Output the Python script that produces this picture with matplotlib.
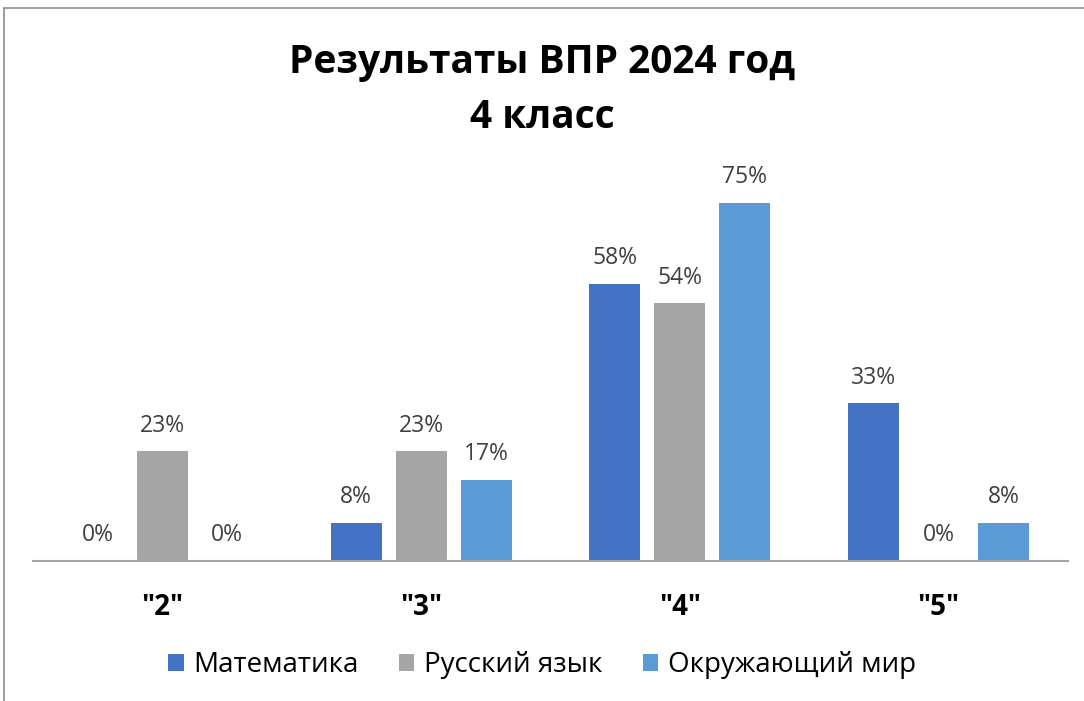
import matplotlib
matplotlib.use("Agg")
import matplotlib.pyplot as plt
from matplotlib.patches import Rectangle
import numpy as np

categories = ['"2"', '"3"', '"4"', '"5"']
series_names = ["Математика", "Русский язык", "Окружающий мир"]
math_vals = [0, 8, 58, 33]
russian_vals = [23, 23, 54, 0]
world_vals = [0, 17, 75, 8]
colors = ["#4472C4", "#A5A5A5", "#5B9BD5"]
title = "Результаты ВПР 2024 год\n4 класс"

plt.rcParams['font.family'] = ['Open Sans', 'DejaVu Sans']

W, H = 1084, 701
fig = plt.figure(figsize=(W / 100, H / 100), dpi=100)

# chart frame (partially cropped in the reference)
fig.patches.append(Rectangle((4 / W, -0.1), 1.2, 1 - 8 / H + 0.1, transform=fig.transFigure,
                             fill=False, edgecolor="#8C8C8C", linewidth=1.2))

ax_left, ax_right = 33, 1068
ax_bottom, ax_top = 561, 140
ax = fig.add_axes([ax_left / W, 1 - ax_bottom / H, (ax_right - ax_left) / W, (ax_bottom - ax_top) / H])
px_per_pct = (561 - 203) / 75.0
ax.set_ylim(0, (ax_bottom - ax_top) / px_per_pct)
ax.set_xlim(-0.5, 3.5)

x = np.arange(len(categories))
width = 0.197
step = 0.251
all_vals = [math_vals, russian_vals, world_vals]
for i, (vals, name, c) in enumerate(zip(all_vals, series_names, colors)):
    pos = x + (i - 1) * step
    ax.bar(pos, vals, width=width, color=c, label=name, zorder=2)
    for p, v in zip(pos, vals):
        ax.annotate(f"{v}%", xy=(p, v), xytext=(0, 18.5), textcoords="offset points",
                    ha="center", va="center", fontsize=16.5, color="#404040")

for s in ["top", "right", "left"]:
    ax.spines[s].set_visible(False)
ax.spines["bottom"].set_color("#A6A6A6")
ax.spines["bottom"].set_linewidth(1.5)
ax.set_yticks([])
ax.set_xticks(x)
ax.set_xticklabels(categories, fontsize=20, fontweight="bold", color="#000000")
ax.tick_params(axis="x", length=0, pad=23)

fig.text(0.5, 1 - 90 / H, title, ha="center", va="center", fontsize=28, fontweight="bold",
         color="#000000", linespacing=1.5)

handles, labels = ax.get_legend_handles_labels()
fig.legend(handles, labels, loc="center", bbox_to_anchor=(0.5, 1 - 665 / H), ncol=3,
           frameon=False, fontsize=20, handlelength=0.55, handleheight=0.55,
           handletextpad=0.35, columnspacing=1.45, labelcolor="#000000")

fig.savefig("out.png", dpi=100)
